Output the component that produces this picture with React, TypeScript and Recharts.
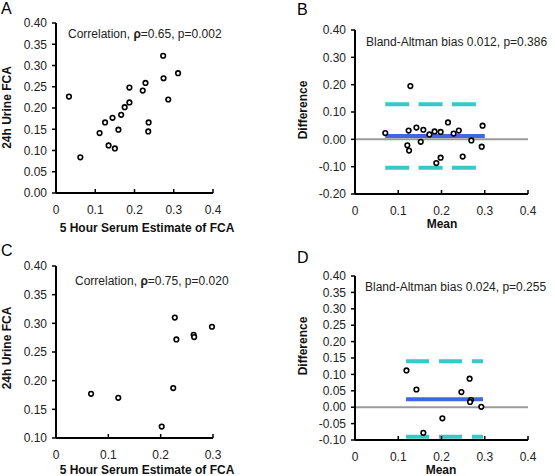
import React from 'react';
import { ScatterChart, Scatter, XAxis, YAxis, ReferenceLine } from 'recharts';

const FONT = '"Liberation Sans", Arial, Helvetica, sans-serif';

// A: 5 hour serum estimate vs 24h urine FCA
const A_SERUM = [0.033, 0.062, 0.111, 0.125, 0.134, 0.144, 0.15, 0.159, 0.166, 0.175, 0.187, 0.187, 0.221, 0.228, 0.236, 0.235, 0.273, 0.274, 0.286, 0.311];
const A_URINE = [0.227, 0.084, 0.141, 0.166, 0.112, 0.177, 0.105, 0.149, 0.184, 0.202, 0.213, 0.248, 0.241, 0.259, 0.166, 0.145, 0.323, 0.27, 0.22, 0.282];

// B: Bland-Altman for A
const B_MEAN = [0.07, 0.124, 0.121, 0.125, 0.128, 0.142, 0.152, 0.158, 0.172, 0.184, 0.188, 0.198, 0.198, 0.215, 0.228, 0.24, 0.249, 0.269, 0.293, 0.295];
const B_DIFF = [0.023, 0.032, -0.022, -0.041, 0.195, 0.043, -0.009, 0.035, 0.018, 0.029, -0.087, 0.027, -0.067, 0.062, 0.021, 0.032, -0.063, -0.004, -0.027, 0.05];
const B_LIMITS = [0.012, 0.128, -0.104]; // bias, upper, lower
const B_SPAN = [0.07, 0.3];

// C: second cohort
const C_SERUM = [0.067, 0.119, 0.202, 0.224, 0.227, 0.23, 0.263, 0.264, 0.298];
const C_URINE = [0.177, 0.17, 0.12, 0.187, 0.31, 0.272, 0.28, 0.276, 0.294];

// D: Bland-Altman for C
const D_MEAN = [0.119, 0.142, 0.158, 0.202, 0.246, 0.265, 0.268, 0.266, 0.292];
const D_DIFF = [0.112, 0.054, -0.078, -0.034, 0.046, 0.087, 0.022, 0.016, 0.001];
const D_LIMITS = [0.024, 0.14, -0.09];
const D_SPAN = [0.118, 0.296];

const X_TICKS_4 = [0, 0.1, 0.2, 0.3, 0.4];
const X_TICKS_3 = [0, 0.1, 0.2, 0.3];
const A_Y_TICKS = [0, 0.05, 0.1, 0.15, 0.2, 0.25, 0.3, 0.35, 0.4];
const B_Y_TICKS = [-0.2, -0.1, 0, 0.1, 0.2, 0.3, 0.4];
const C_Y_TICKS = [0.1, 0.15, 0.2, 0.25, 0.3, 0.35, 0.4];
const D_Y_TICKS = [-0.1, -0.05, 0, 0.05, 0.1, 0.15, 0.2, 0.25, 0.3, 0.35, 0.4];

const zip = (xs: number[], ys: number[]) => xs.map((x, i) => ({ x, y: ys[i] }));

const Ring = (props: any) => {
  const { cx, cy } = props;
  if (cx == null || cy == null) return null;
  return <circle cx={cx} cy={cy} r={2.3} fill="#fff" stroke="#000" strokeWidth={1.6} />;
};

const tickStyle = { fill: '#222', fontSize: 12, fontFamily: FONT };
const xFmt = (v: number) => (v === 0 ? '0' : v.toFixed(1));
const yFmt = (v: number) => v.toFixed(2);

interface PanelProps {
  left: number;
  top: number;
  width: number;
  height: number;
  margin: { top: number; right: number };
  yWidth: number;
  xHeight: number;
  xTicks: number[];
  yTicks: number[];
  points: { x: number; y: number }[];
  limits?: number[];
  span?: number[];
  dash?: string;
}

function Panel(p: PanelProps) {
  const xDomain = [p.xTicks[0], p.xTicks[p.xTicks.length - 1]];
  const yDomain = [p.yTicks[0], p.yTicks[p.yTicks.length - 1]];
  return (
    <div style={{ position: 'absolute', left: p.left, top: p.top }}>
      <ScatterChart
        width={p.width}
        height={p.height}
        margin={{ top: p.margin.top, right: p.margin.right, left: 0, bottom: 0 }}
      >
        <XAxis
          type="number"
          dataKey="x"
          domain={xDomain}
          ticks={p.xTicks}
          interval={0}
          tickFormatter={xFmt}
          height={p.xHeight}
          tick={tickStyle}
          axisLine={{ stroke: '#000', strokeWidth: 2 }}
          tickLine={{ stroke: '#000', strokeWidth: 1.5 }}
          tickSize={-4}
          tickMargin={16}
        />
        <YAxis
          type="number"
          dataKey="y"
          domain={yDomain}
          ticks={p.yTicks}
          interval={0}
          tickFormatter={yFmt}
          width={p.yWidth}
          tick={tickStyle}
          axisLine={{ stroke: '#000', strokeWidth: 2 }}
          tickLine={{ stroke: '#000', strokeWidth: 1.5 }}
          tickSize={4}
          tickMargin={5}
        />
        {p.limits && (
          <ReferenceLine y={0} stroke="#9a9a9a" strokeWidth={2} />
        )}
        {p.limits && p.span &&
          p.limits.slice(1).map((v, i) => (
            <ReferenceLine
              key={`lim-${i}`}
              segment={[{ x: p.span![0], y: v }, { x: p.span![1], y: v }]}
              stroke="#36c9c6"
              strokeWidth={4}
              strokeDasharray={p.dash}
            />
          ))}
        {p.limits && p.span && (
          <ReferenceLine
            segment={[{ x: p.span[0], y: p.limits[0] }, { x: p.span[1], y: p.limits[0] }]}
            stroke="#3f67e0"
            strokeWidth={4}
          />
        )}
        <Scatter data={p.points} shape={Ring} isAnimationActive={false} />
      </ScatterChart>
    </div>
  );
}

const Overlay = () => (
  <svg
    width={555}
    height={476}
    style={{ position: 'absolute', left: 0, top: 0, pointerEvents: 'none' }}
    fontFamily={FONT}
  >
    <g fontSize={16} fill="#000">
      <text x={1} y={14}>A</text>
      <text x={297} y={15}>B</text>
      <text x={1} y={256}>C</text>
      <text x={297} y={263}>D</text>
    </g>
    <g fontSize={12} fill="#222">
      <text x={68} y={37.5}>
        Correlation, <tspan fontWeight="bold">ρ</tspan>=0.65, p=0.002
      </text>
      <text x={366} y={46}>Bland-Altman bias 0.012, p=0.386</text>
      <text x={75} y={284.5}>
        Correlation, <tspan fontWeight="bold">ρ</tspan>=0.75, p=0.020
      </text>
      <text x={365} y={291}>Bland-Altman bias 0.024, p=0.255</text>
    </g>
    <g fontSize={12} fontWeight="bold" fill="#111" textAnchor="middle">
      <text transform="translate(11,107.5) rotate(-90)">24h Urine FCA</text>
      <text x={147} y={231.5}>5 Hour Serum Estimate of FCA</text>
      <text transform="translate(306.5,110) rotate(-90)">Difference</text>
      <text x={442} y={228}>Mean</text>
      <text transform="translate(11,348) rotate(-90)">24h Urine FCA</text>
      <text x={147} y={474}>5 Hour Serum Estimate of FCA</text>
      <text transform="translate(307,346) rotate(-90)">Difference</text>
      <text x={441} y={473.5}>Mean</text>
    </g>
  </svg>
);

export default function App() {
  return (
    <div
      style={{
        position: 'absolute',
        left: 0,
        top: 0,
        width: 555,
        height: 476,
        background: '#fff',
        fontFamily: FONT,
        overflow: 'hidden',
      }}
    >
      <Panel
        left={0}
        top={0}
        width={278}
        height={238}
        margin={{ top: 23, right: 65 }}
        yWidth={56}
        xHeight={45}
        xTicks={X_TICKS_4}
        yTicks={A_Y_TICKS}
        points={zip(A_SERUM, A_URINE)}
      />
      <Panel
        left={278}
        top={0}
        width={277}
        height={238}
        margin={{ top: 30, right: 27 }}
        yWidth={77}
        xHeight={44}
        xTicks={X_TICKS_4}
        yTicks={B_Y_TICKS}
        points={zip(B_MEAN, B_DIFF)}
        limits={B_LIMITS}
        span={B_SPAN}
        dash="24 9.3"
      />
      <Panel
        left={0}
        top={238}
        width={278}
        height={238}
        margin={{ top: 28, right: 65 }}
        yWidth={56}
        xHeight={38}
        xTicks={X_TICKS_3}
        yTicks={C_Y_TICKS}
        points={zip(C_SERUM, C_URINE)}
      />
      <Panel
        left={278}
        top={238}
        width={277}
        height={238}
        margin={{ top: 38, right: 27 }}
        yWidth={77}
        xHeight={36}
        xTicks={X_TICKS_4}
        yTicks={D_Y_TICKS}
        points={zip(D_MEAN, D_DIFF)}
        limits={D_LIMITS}
        span={D_SPAN}
        dash="23 10"
      />
      <Overlay />
    </div>
  );
}
